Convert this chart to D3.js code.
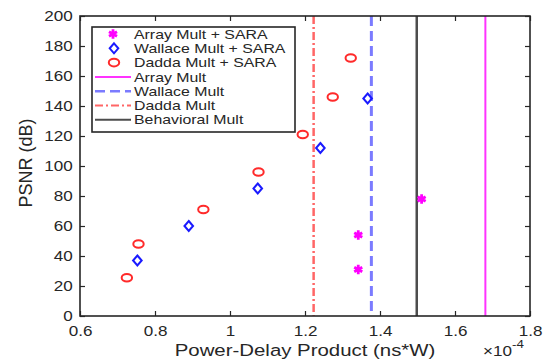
<!DOCTYPE html>
<meta charset="utf-8">
<style>
  body { margin: 0; background: #fff; }
  svg { font-family: "Liberation Sans", Arial, sans-serif; }
  .axis path { display: none; }
  .axis line { stroke: #262626; stroke-width: 1.2; }
  .axis text { fill: #262626; font-size: 14px; }
</style>
<body>
<svg width="554" height="361"></svg>
<script src="https://cdn.jsdelivr.net/npm/d3@7"></script>
<script>
  // values in units of 1e-4 ns*W
  const xTicks = [0.6, 0.8, 1.0, 1.2, 1.4, 1.6, 1.8];
  const yTicks = [0, 20, 40, 60, 80, 100, 120, 140, 160, 180, 200];

  const arrayPdp = [1.342, 1.342, 1.511];
  const arrayPsnr = [31, 54, 78];
  const wallacePdp = [0.753, 0.890, 1.074, 1.241, 1.367];
  const wallacePsnr = [37, 60, 85, 112, 145];
  const daddaPdp = [0.725, 0.756, 0.929, 1.076, 1.194, 1.274, 1.322];
  const daddaPsnr = [25.5, 48, 71, 96, 121, 146, 172];

  const baseNames = ["Array Mult", "Wallace Mult", "Dadda Mult", "Behavioral Mult"];
  const basePdp = [1.681, 1.377, 1.223, 1.498];

  const sx = 1.22; // the reference text is wider than plain Arial

  const svg = d3.select("svg");
  const margin = {top: 16, right: 24, bottom: 45, left: 80};
  const width = 554 - margin.left - margin.right;
  const height = 361 - margin.top - margin.bottom;

  const x = d3.scaleLinear().domain([0.6, 1.8]).range([0, width]);
  const y = d3.scaleLinear().domain([0, 200]).range([height, 0]);

  const g = svg.append("g")
      .attr("transform", `translate(${margin.left},${margin.top})`);

  // axes with inward ticks on all four sides
  g.append("g").attr("class", "axis")
      .attr("transform", `translate(0,${height})`)
      .call(d3.axisBottom(x).tickValues(xTicks).tickSize(-5).tickPadding(10).tickFormat(d3.format("~g")))
    .selectAll("text").attr("transform", `scale(${sx},1)`);
  g.append("g").attr("class", "axis")
      .call(d3.axisLeft(y).tickValues(yTicks).tickSize(-5).tickPadding(6))
    .selectAll("text").attr("transform", `scale(${sx},1)`);
  g.append("g").attr("class", "axis")
      .call(d3.axisTop(x).tickValues(xTicks).tickSize(-5).tickFormat(""));
  g.append("g").attr("class", "axis")
      .attr("transform", `translate(${width},0)`)
      .call(d3.axisRight(y).tickValues(yTicks).tickSize(-5).tickFormat(""));

  // baseline vertical lines
  const lineStyle = {
    "Array Mult": {color: "#ff33ff", w: 2, dash: null},
    "Wallace Mult": {color: "#7b7bff", w: 3, dash: "10,5"},
    "Dadda Mult": {color: "#ff6666", w: 2.5, dash: "8,3,2,3"},
    "Behavioral Mult": {color: "#4d4d4d", w: 2.5, dash: null}
  };
  g.selectAll(".vline")
    .data(baseNames)
    .enter().append("line")
      .attr("class", "vline")
      .attr("x1", (d, i) => x(basePdp[i]))
      .attr("x2", (d, i) => x(basePdp[i]))
      .attr("y1", 0)
      .attr("y2", height)
      .attr("stroke", d => lineStyle[d].color)
      .attr("stroke-width", d => lineStyle[d].w)
      .attr("stroke-dasharray", d => lineStyle[d].dash);

  // markers
  const star = d3.symbol().type(d3.symbolAsterisk).size(60);
  const diamond = "M0,-5L4.3,0L0,5L-4.3,0Z";

  function drawStar(sel) {
    sel.attr("d", star).attr("fill", "none").attr("stroke", "#ff00ff").attr("stroke-width", 2.8);
  }
  function drawDiamond(sel) {
    sel.attr("d", diamond).attr("fill", "none").attr("stroke", "#1a1aff").attr("stroke-width", 2);
  }
  function drawCircle(sel) {
    sel.attr("rx", 5.2).attr("ry", 3.8).attr("fill", "none").attr("stroke", "#ff2a2a").attr("stroke-width", 2);
  }

  g.selectAll(".arr").data(arrayPdp).enter().append("path")
      .attr("class", "arr")
      .attr("transform", (d, i) => `translate(${x(d)},${y(arrayPsnr[i])})`)
      .call(drawStar);
  g.selectAll(".wal").data(wallacePdp).enter().append("path")
      .attr("class", "wal")
      .attr("transform", (d, i) => `translate(${x(d)},${y(wallacePsnr[i])})`)
      .call(drawDiamond);
  g.selectAll(".dad").data(daddaPdp).enter().append("ellipse")
      .attr("class", "dad")
      .attr("cx", d => x(d))
      .attr("cy", (d, i) => y(daddaPsnr[i]))
      .call(drawCircle);

  // frame
  g.append("rect")
      .attr("width", width).attr("height", height)
      .attr("fill", "none").attr("stroke", "#262626").attr("stroke-width", 1.6);

  // legend
  const legendItems = [
    {label: "Array Mult + SARA", kind: "star"},
    {label: "Wallace Mult + SARA", kind: "diamond"},
    {label: "Dadda Mult + SARA", kind: "circle"},
    ...baseNames.map(n => ({label: n, kind: "line"}))
  ];
  const legend = svg.append("g").attr("transform", "translate(92,27)");
  legend.append("rect")
      .attr("width", 203).attr("height", 105)
      .attr("fill", "#fff").attr("stroke", "#262626").attr("stroke-width", 1.6);
  const rows = legend.selectAll(".row").data(legendItems).enter().append("g")
      .attr("class", "row")
      .attr("transform", (d, i) => `translate(0,${7 + i * 14.3})`);
  rows.each(function(d) {
    const r = d3.select(this);
    if (d.kind === "star") r.append("path").attr("transform", "translate(21,0)").call(drawStar);
    if (d.kind === "diamond") r.append("path").attr("transform", "translate(22,0)").call(drawDiamond);
    if (d.kind === "circle") r.append("ellipse").attr("cx", 22).attr("cy", 0).call(drawCircle);
    if (d.kind === "line") {
      const s = lineStyle[d.label];
      r.append("line").attr("x1", 3).attr("x2", 39)
          .attr("stroke", s.color).attr("stroke-width", s.w === 3 ? 2.5 : 2)
          .attr("stroke-dasharray", s.dash);
    }
  });
  rows.append("text")
      .attr("transform", `translate(42,0) scale(${sx},1)`)
      .attr("dy", "0.36em")
      .attr("font-size", 13)
      .attr("fill", "#262626")
      .text(d => d.label);

  // axis titles
  svg.append("text")
      .attr("transform", `translate(${margin.left + width / 2},356) scale(1.2,1)`)
      .attr("text-anchor", "middle")
      .attr("font-size", 17)
      .attr("fill", "#262626")
      .text("Power-Delay Product (ns*W)");
  svg.append("text")
      .attr("transform", "translate(32,163) rotate(-90)")
      .attr("text-anchor", "middle")
      .attr("font-size", 18)
      .attr("fill", "#262626")
      .text("PSNR (dB)");

  const expo = svg.append("text")
      .attr("transform", `translate(483,356) scale(${sx},1)`)
      .attr("font-size", 14)
      .attr("fill", "#262626");
  expo.append("tspan").text("\u00d710");
  expo.append("tspan").attr("dy", -8).attr("font-size", 11).text("-4");
</script>
</body>
